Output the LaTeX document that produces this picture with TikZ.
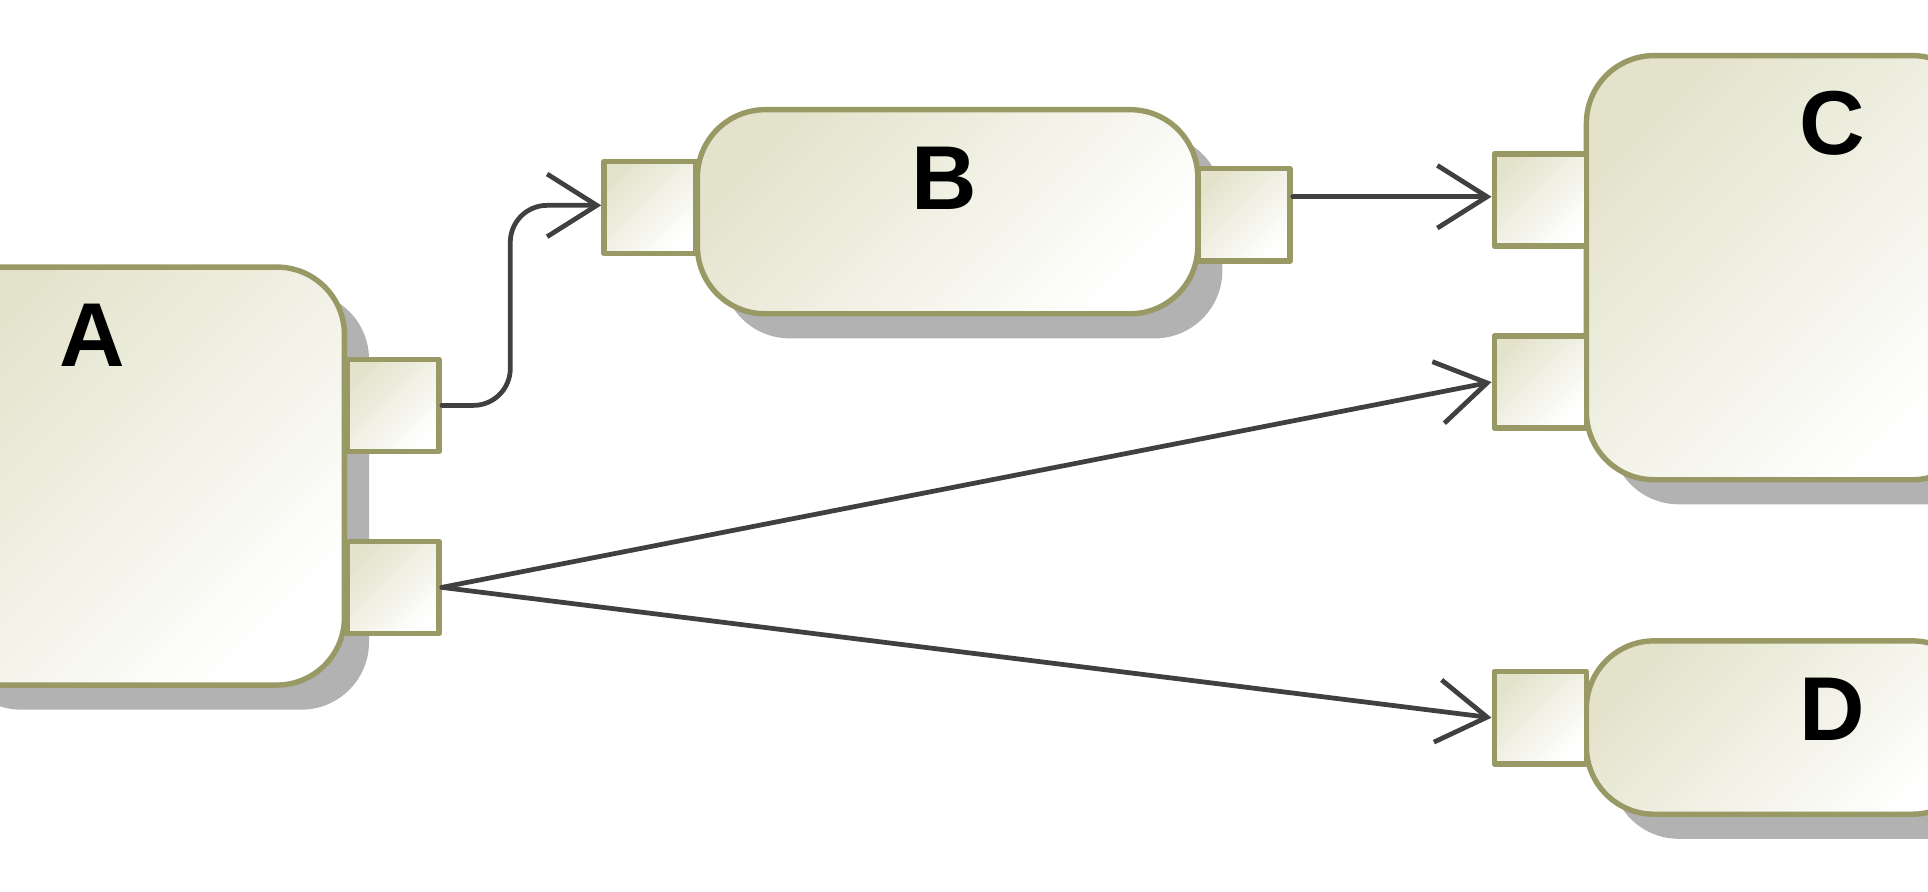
\documentclass[tikz,border=0pt]{standalone}
\usepackage{fontspec}
\setmainfont{Liberation Sans}
\usetikzlibrary{arrows.meta,shadows}
\definecolor{boxline}{rgb}{0.6,0.6,0.4}
\definecolor{boxfill}{rgb}{0.89,0.89,0.8}
\definecolor{wire}{rgb}{0.25,0.25,0.25}
\tikzset{
  block/.style={draw=boxline,line width=2.5pt,rounded corners=1.1cm,top color=boxfill,bottom color=white,shading angle=45,
    drop shadow={shadow xshift=0.4cm,shadow yshift=-0.4cm,fill=black!30,opacity=1},inner sep=0pt,anchor=north west},
  port/.style={draw=boxline,line width=2.5pt,top color=boxfill,bottom color=white,shading angle=45,
    minimum width=1.5cm,minimum height=1.5cm,inner sep=0pt,anchor=north west},
  link/.style={draw=wire,line width=2.2pt,-{Straight Barb[length=23pt,width=29pt,line width=2.2pt]}},
  lbl/.style={font=\bfseries\fontsize{42}{42}\selectfont}
}
\begin{document}
\begin{tikzpicture}[line cap=round,line join=round,x=0.02cm,y=-0.02cm]
\useasboundingbox (0,0) rectangle (1568,725);
\clip (0,0) rectangle (1568,725);
% blocks
\node[block,minimum width=6.76cm,minimum height=6.8cm] (A) at (-60,215) {};
\node[block,minimum width=8.14cm,minimum height=3.32cm] (B) at (565,87) {};
\node[block,minimum width=6.4cm,minimum height=6.9cm] (C) at (1288,43) {};
\node[block,minimum width=6.4cm,minimum height=2.82cm] (D) at (1288,519) {};
% ports
\node[port] (a1) at (280,290) {};
\node[port] (a2) at (280,438) {};
\node[port] (b1) at (489,129) {};
\node[port] (b2) at (972,135) {};
\node[port] (c1) at (1213,123) {};
\node[port] (c2) at (1213,271) {};
\node[port] (d1) at (1213,544) {};
% labels
\node[lbl] at (75,273) {A};
\node[lbl] at (768,145) {B};
\node[lbl] at (1490,100) {C};
\node[lbl] at (1490,577) {D};
% links
\draw[link,rounded corners=0.6cm] (a1.east) -- (a1.east-|415,0) -- (415,167) -- (b1.west|-0,167);
\draw[link] (b2.east|-0,160) -- (c1.west|-0,160);
\draw[link] (a2.east) -- (c2.west);
\draw[link] (a2.east) -- (d1.west);
\end{tikzpicture}
\end{document}
